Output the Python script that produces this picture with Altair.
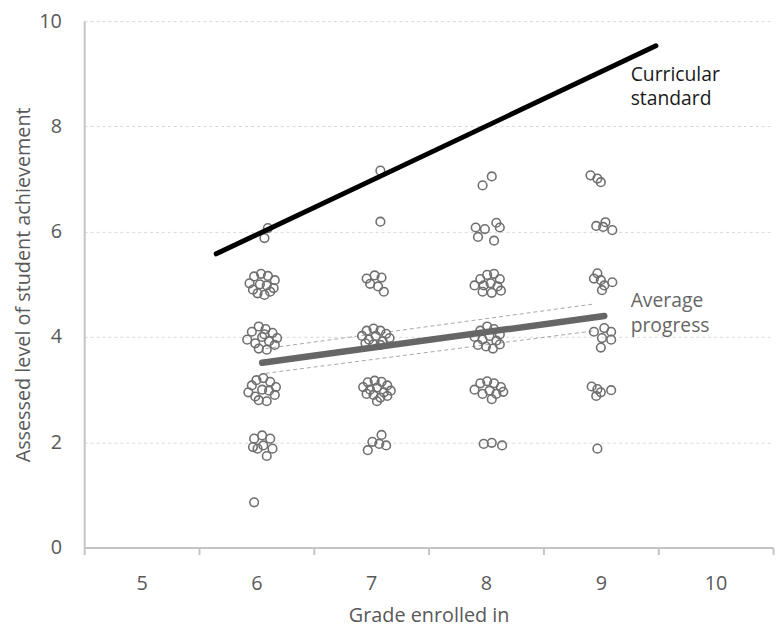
import altair as alt
import pandas as pd

# ---- scatter data: (grade, assessed level) ----
g6_x = [5.98,
        5.98, 6.05, 6.12, 5.97, 6.06, 6.14, 6.09, 6.01,
        5.93, 5.96, 6.00, 6.06, 6.12, 6.17, 5.99, 6.05, 6.11, 6.16, 6.02, 6.09,
        5.92, 5.96, 6.02, 6.08, 6.14, 6.18, 5.99, 6.05, 6.11, 6.16, 6.02, 6.09, 6.07,
        5.94, 5.98, 6.04, 6.10, 6.16, 5.97, 6.03, 6.09, 6.15, 6.01, 6.07, 6.12,
        6.07, 6.10]
g6_y = [0.86,
        2.07, 2.13, 2.07, 1.91, 1.94, 1.88, 1.74, 1.88,
        2.95, 3.08, 3.18, 3.22, 3.15, 3.05, 2.87, 3.00, 2.98, 2.90, 2.80, 2.78,
        3.95, 4.10, 4.20, 4.15, 4.08, 3.98, 3.88, 4.00, 3.92, 3.85, 3.78, 3.76, 4.05,
        5.02, 5.15, 5.20, 5.16, 5.08, 4.90, 5.00, 4.98, 4.93, 4.83, 4.80, 4.86,
        5.88, 6.07]

g7_x = [6.97, 7.01, 7.09, 7.07, 7.13,
        6.93, 6.97, 7.03, 7.09, 7.14, 7.17, 6.99, 7.05, 7.11, 6.96, 7.02, 7.08, 7.14, 7.05,
        6.92, 6.96, 7.02, 7.08, 7.13, 7.16, 6.98, 7.04, 7.10, 6.95, 7.02, 7.08,
        6.96, 7.03, 7.09, 6.99, 7.06, 7.11,
        7.08, 7.08]
g7_y = [1.85, 2.01, 2.14, 1.97, 1.94,
        3.05, 3.14, 3.17, 3.15, 3.08, 2.98, 3.00, 3.04, 2.95, 2.92, 2.90, 2.85, 2.88, 2.78,
        4.02, 4.12, 4.16, 4.12, 4.06, 3.98, 3.95, 4.02, 3.92, 3.88, 3.86, 3.85,
        5.11, 5.17, 5.13, 5.01, 4.96, 4.86,
        6.19, 7.16]

g8_x = [7.98, 8.05, 8.14,
        7.90, 7.95, 8.01, 8.07, 8.13, 7.97, 8.03, 8.09, 8.15, 8.05,
        7.90, 7.95, 8.01, 8.07, 8.12, 7.97, 8.03, 8.09, 7.93, 8.00, 8.06, 8.12,
        7.90, 7.95, 8.01, 8.07, 8.12, 7.98, 8.04, 8.10, 7.97, 8.05, 8.13,
        7.91, 7.99, 7.93, 8.09, 8.12, 8.07,
        7.97, 8.05]
g8_y = [1.97, 1.99, 1.94,
        3.00, 3.12, 3.16, 3.12, 3.05, 2.92, 2.98, 2.92, 2.96, 2.82,
        4.00, 4.12, 4.20, 4.15, 4.05, 3.95, 4.02, 3.93, 3.85, 3.82, 3.78, 3.86,
        4.98, 5.10, 5.18, 5.20, 5.10, 4.98, 5.02, 4.96, 4.86, 4.84, 4.88,
        6.08, 6.05, 5.90, 6.17, 6.08, 5.83,
        6.88, 7.05]

g9_x = [8.97,
        8.92, 8.97, 8.96, 9.00, 9.09,
        8.94, 9.03, 9.09, 9.01, 9.09, 9.00,
        8.97, 9.03, 9.10, 9.00, 9.01, 8.94,
        8.96, 9.04, 9.10, 9.02,
        8.91, 8.97, 9.00]
g9_y = [1.88,
        3.06, 3.01, 2.88, 2.95, 2.99,
        4.10, 4.17, 4.10, 3.98, 3.95, 3.80,
        5.21, 4.98, 5.04, 5.08, 4.89, 5.11,
        6.11, 6.18, 6.03, 6.09,
        7.07, 7.01, 6.94]

# ---- lines ----
standard_x = [5.65, 9.48]
standard_y = [5.58, 9.53]
average_x = [6.05, 9.03]
average_y = [3.51, 4.40]
ci_x = [6.08, 8.95]
ci_upper = [3.78, 4.63]
ci_lower = [3.31, 4.12]

# ---- annotations ----
ann_std_x, ann_std_y, ann_std_text = [9.26], [8.87], [["Curricular", "standard"]]
ann_avg_x, ann_avg_y, ann_avg_text = [9.26], [4.57], [["Average", "progress"]]

x_ticks = [4.5, 5.5, 6.5, 7.5, 8.5, 9.5, 10.5]
y_ticks = [0, 2, 4, 6, 8, 10]

W, H = 696, 532
FONT = "Open Sans"
TXT = "#595959"
AX = "#c4c4c4"

pts = pd.DataFrame({"x": g6_x + g7_x + g8_x + g9_x,
                    "y": g6_y + g7_y + g8_y + g9_y})
std_df = pd.DataFrame({"x": standard_x, "y": standard_y})
avg_df = pd.DataFrame({"x": average_x, "y": average_y})
ci_df = pd.DataFrame({"x": ci_x + ci_x, "y": ci_upper + ci_lower,
                      "bound": ["upper"] * 2 + ["lower"] * 2})
ann1 = pd.DataFrame({"x": ann_std_x, "y": ann_std_y, "t": ann_std_text})
ann2 = pd.DataFrame({"x": ann_avg_x, "y": ann_avg_y, "t": ann_avg_text})

xscale = alt.Scale(domain=[4.5, 10.5], nice=False, zero=False)
yscale = alt.Scale(domain=[0, 10], nice=False)

x_axis = alt.Axis(values=x_ticks, title="Grade enrolled in",
                  labelExpr="datum.value < 10 ? format(datum.value + 0.5, 'd') : ''",
                  labelOffset=W / 12, labelFlush=False, labelOverlap=False,
                  grid=False, ticks=True, tickSize=7, tickWidth=2, tickColor=AX,
                  domainColor=AX, domainWidth=2, labelPadding=19,
                  titleY=75, titleBaseline="alphabetic")
y_axis = alt.Axis(values=y_ticks, title="Assessed level of student achievement",
                  grid=True, gridDash=[3, 3], gridColor="#d9d9d9", gridWidth=1,
                  ticks=False, domainColor=AX, domainWidth=2, labelPadding=23,
                  titleX=-61, titleY=H / 2, titleAngle=270, titleAlign="center",
                  titleBaseline="middle")

X = alt.X("x:Q", scale=xscale, axis=x_axis)
Y = alt.Y("y:Q", scale=yscale, axis=y_axis)

ci = alt.Chart(ci_df).mark_line(color="#a6a6a6", strokeWidth=1, strokeDash=[4, 3]).encode(
    x=X, y=Y, detail="bound:N")
avg = alt.Chart(avg_df).mark_line(color="#666666", strokeWidth=6.5, strokeCap="round").encode(x=X, y=Y)
std = alt.Chart(std_df).mark_line(color="#000000", strokeWidth=5, strokeCap="round").encode(x=X, y=Y)
points = alt.Chart(pts).mark_point(shape="circle", filled=False, size=76,
                                   stroke="#707070", strokeWidth=1.6, opacity=1).encode(x=X, y=Y)
t1 = alt.Chart(ann1).mark_text(align="left", baseline="alphabetic", fontSize=19.5, font=FONT,
                               color="#1a1a1a", lineHeight=25).encode(x=X, y=Y, text="t")
t2 = alt.Chart(ann2).mark_text(align="left", baseline="alphabetic", fontSize=19.5, font=FONT,
                               color="#666666", lineHeight=25).encode(x=X, y=Y, text="t")

chart = alt.layer(ci, points, avg, std, t1, t2).properties(
    width=W, height=H, autosize="none",
    padding={"left": 77, "top": 10, "right": 3, "bottom": 80},
).configure_view(stroke=None).configure_axis(
    labelFont=FONT, titleFont=FONT, labelFontSize=20, titleFontSize=20,
    labelColor=TXT, titleColor=TXT, titleFontWeight="normal",
)

chart.save("out.html", embed_options={"renderer": "svg", "actions": False})
